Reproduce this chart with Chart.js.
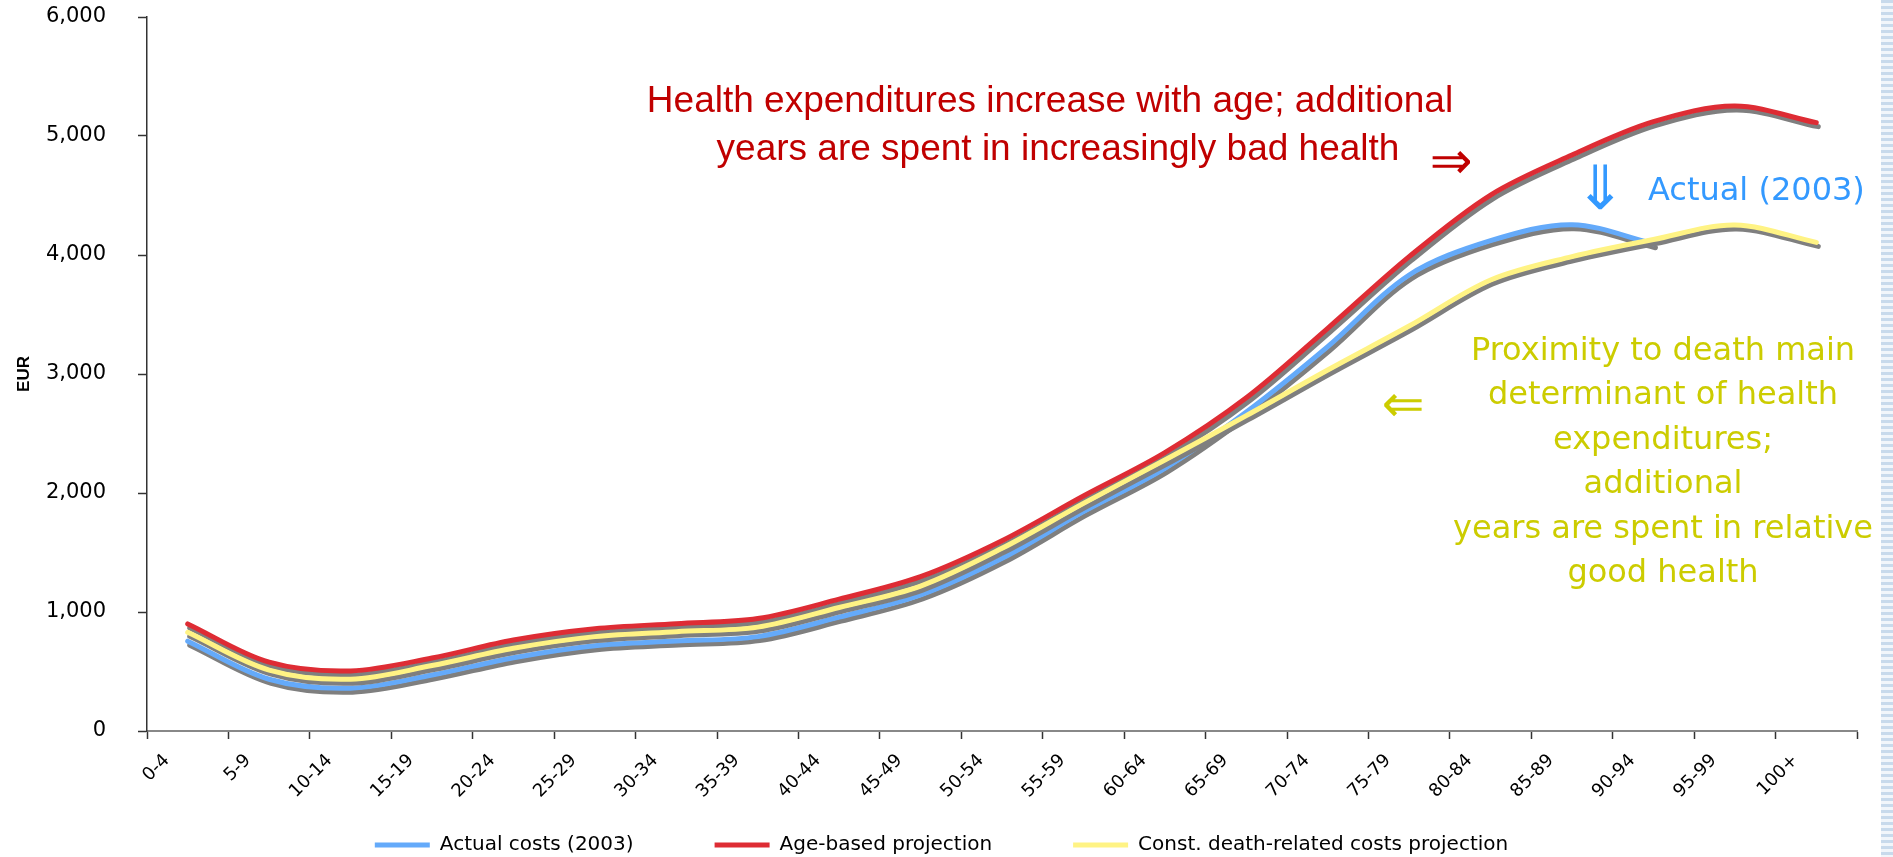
<!DOCTYPE html>
<html>
<head>
<meta charset="utf-8">
<script src="https://cdn.jsdelivr.net/npm/chart.js@4.4.1/dist/chart.umd.min.js"></script>
<style>
html, body { margin: 0; padding: 0; background: #ffffff; }
#wrap { position: relative; width: 1893px; height: 857px; overflow: hidden; }
#stripes { position: absolute; left: 1881px; top: 0; width: 12px; height: 857px;
  background: repeating-linear-gradient(180deg, #c8daec 0px, #c8daec 3px, #f1f6fb 3px, #f1f6fb 6px); }
</style>
</head>
<body>
<div id="wrap">
  <canvas id="c" width="1893" height="857"></canvas>
  <div id="stripes"></div>
</div>
<script>
// ---- data ----
const ageGroups = ['0-4','5-9','10-14','15-19','20-24','25-29','30-34','35-39','40-44','45-49',
  '50-54','55-59','60-64','65-69','70-74','75-79','80-84','85-89','90-94','95-99','100+'];

const actualCosts = [755, 435, 360, 470, 616, 717, 756, 793, 957, 1143,
  1451, 1843, 2207, 2680, 3230, 3832, 4120, 4255, 4095];

const ageBasedProjection = [900, 578, 505, 613, 765, 860, 902, 945, 1108, 1297,
  1599, 1975, 2339, 2800, 3384, 3986, 4504, 4840, 5120, 5252, 5112];

const deathRelatedProjection = [830, 512, 435, 550, 695, 793, 835, 873, 1038, 1218,
  1535, 1913, 2277, 2650, 3034, 3403, 3790, 3986, 4130, 4252, 4106];

const seriesNames = ['Actual costs (2003)', 'Age-based projection', 'Const. death-related costs projection'];

const yMin = 0, yMax = 6000, yStep = 1000;

// ---- layout constants (pixels) ----
const PLOT_BOTTOM = 731;
const LEGEND_CENTER_Y = 845;
const LEGEND_BOX_H = 12;

// ---- plugins ----
const lineShadow = {
  id: 'lineShadow',
  beforeDatasetDraw(chart) {
    const ctx = chart.ctx;
    ctx.save();
    ctx.shadowColor = '#7f7f7f';
    ctx.shadowOffsetX = 2;
    ctx.shadowOffsetY = 4;
    ctx.shadowBlur = 0;
  },
  afterDatasetDraw(chart) {
    chart.ctx.restore();
  }
};

// legend: wide horizontal spacing, but a compact box placed just under the axis labels
const legendPlacement = {
  id: 'legendPlacement',
  afterInit(chart) {
    const lg = chart.legend;
    if (!lg) return;
    const origFit = lg.fit.bind(lg);
    lg.fit = function () { origFit(); this.height = LEGEND_BOX_H; };
  },
  afterLayout(chart) {
    const lg = chart.legend;
    if (!lg) return;
    const lab = lg.options.labels;
    const fs = lab.font.size;
    lg.top = LEGEND_CENTER_Y - lab.padding - fs / 2;
    lg.bottom = chart.height;
    lg.height = lg.bottom - lg.top;
  }
};

const notes = {
  id: 'notes',
  afterDatasetsDraw(chart) {
    const ctx = chart.ctx;
    ctx.save();
    // red note
    ctx.fillStyle = '#C00000';
    ctx.textAlign = 'center';
    ctx.textBaseline = 'alphabetic';
    ctx.font = '37px "Liberation Sans", Arial, sans-serif';
    ctx.fillText('Health expenditures increase with age; additional', 1050, 112);
    ctx.fillText('years are spent in increasingly bad health', 1058, 160);
    ctx.textBaseline = 'middle';
    ctx.font = '51px "DejaVu Sans", sans-serif';
    ctx.fillText('\u21D2', 1451, 165);
    // blue note
    ctx.fillStyle = '#3399FF';
    ctx.font = '61px "DejaVu Sans", sans-serif';
    ctx.fillText('\u21D3', 1600, 193);
    ctx.textAlign = 'left';
    ctx.textBaseline = 'alphabetic';
    ctx.font = '32px "DejaVu Sans", sans-serif';
    ctx.fillText('Actual (2003)', 1648, 200);
    // yellow note
    ctx.fillStyle = '#CCCC00';
    ctx.textAlign = 'center';
    ctx.textBaseline = 'middle';
    ctx.font = '51px "DejaVu Sans", sans-serif';
    ctx.fillText('\u21D0', 1403, 408);
    ctx.textBaseline = 'alphabetic';
    ctx.font = '32px "DejaVu Sans", sans-serif';
    const lines = ['Proximity to death main', 'determinant of health', 'expenditures;',
      'additional', 'years are spent in relative', 'good health'];
    lines.forEach((t, i) => ctx.fillText(t, 1663, 360 + i * 44.4));
    ctx.restore();
  }
};

// ---- chart ----
const lineStyle = { borderWidth: 5, pointRadius: 0, pointHoverRadius: 0, fill: false,
  tension: 0.33, borderCapStyle: 'round', borderJoinStyle: 'round' };

new Chart(document.getElementById('c'), {
  type: 'line',
  data: {
    labels: ageGroups,
    datasets: [
      Object.assign({ label: seriesNames[0], data: actualCosts, borderColor: '#64AAFA', backgroundColor: '#64AAFA', order: 2 }, lineStyle),
      Object.assign({ label: seriesNames[1], data: ageBasedProjection, borderColor: '#DE2C34', backgroundColor: '#DE2C34', order: 1 }, lineStyle),
      Object.assign({ label: seriesNames[2], data: deathRelatedProjection, borderColor: '#FFF384', backgroundColor: '#FFF384', order: 0 }, lineStyle)
    ]
  },
  options: {
    responsive: false,
    animation: false,
    devicePixelRatio: 1,
    locale: 'en-US',
    events: [],
    layout: { padding: { top: 17, left: 26, right: 36, bottom: 0 } },
    plugins: {
      tooltip: { enabled: false },
      legend: {
        position: 'bottom',
        labels: {
          usePointStyle: true,
          pointStyle: 'line',
          pointStyleWidth: 55,
          padding: 81,
          color: '#000',
          font: { family: '"DejaVu Sans", sans-serif', size: 20 },
          sort: (a, b) => a.datasetIndex - b.datasetIndex
        }
      }
    },
    scales: {
      x: {
        type: 'category',
        offset: true,
        grid: { display: true, offset: true, drawOnChartArea: false, drawTicks: true, tickLength: 8, tickColor: '#333', tickWidth: 1.5 },
        border: { display: true, color: '#888', width: 2 },
        ticks: { autoSkip: false, minRotation: 45, maxRotation: 45, labelOffset: -21, padding: 11,
          color: '#000', font: { family: '"DejaVu Sans", sans-serif', size: 18 } },
        afterFit(scale) {
          scale.height = 857 - LEGEND_BOX_H - PLOT_BOTTOM;
          scale.paddingLeft = 0; scale.paddingRight = 0;
        }
      },
      y: {
        min: yMin, max: yMax,
        ticks: { stepSize: yStep, padding: 32, color: '#000', font: { family: '"DejaVu Sans", sans-serif', size: 21 } },
        grid: { drawOnChartArea: false, drawTicks: true, tickLength: 9, tickColor: '#333', tickWidth: 1.5 },
        border: { display: true, color: '#333', width: 1.5 },
        title: { display: true, text: 'EUR', color: '#000', padding: { top: -12, bottom: 0 },
          font: { family: '"Liberation Sans", Arial, sans-serif', size: 17, weight: 'bold' } },
        afterFit(scale) {
          scale.width = 121;
          scale.paddingTop = 0; scale.paddingBottom = 0;
        }
      }
    }
  },
  plugins: [lineShadow, legendPlacement, notes]
});
</script>
</body>
</html>
